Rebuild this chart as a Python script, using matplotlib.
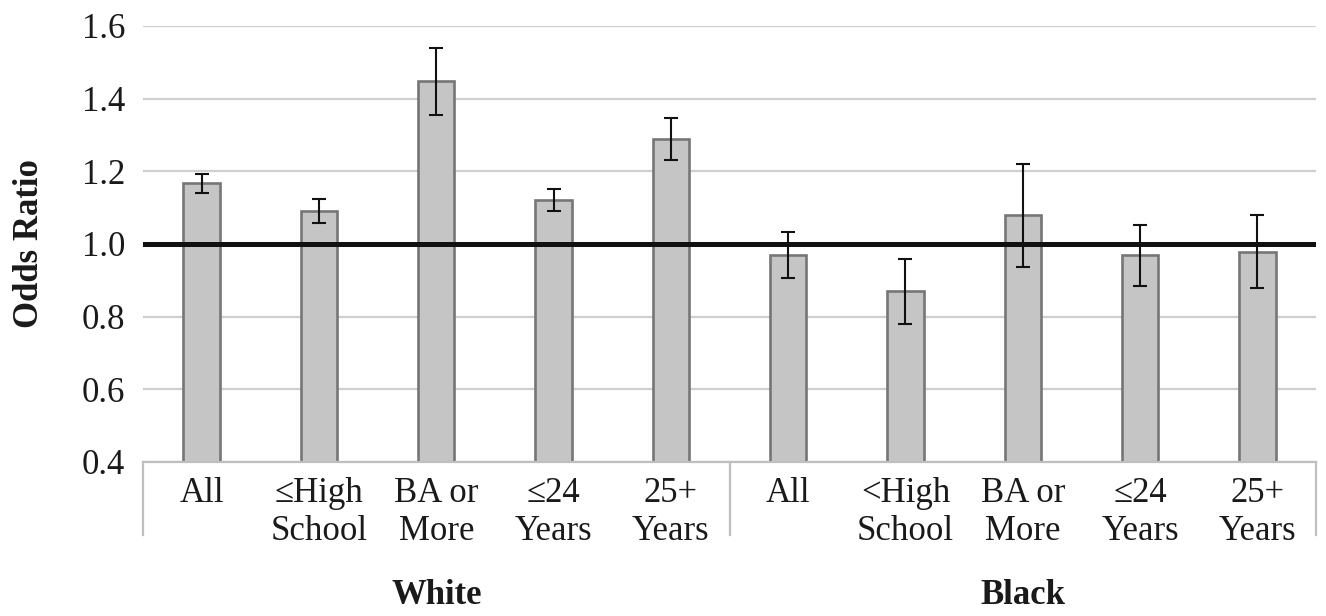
import matplotlib.pyplot as plt
from matplotlib.ticker import FormatStrFormatter

plt.rcParams['font.family'] = ['Liberation Serif', 'DejaVu Serif']

# data
groups = ["White", "Black"]
labels = ["All", "\u2264High\nSchool", "BA or\nMore", "\u226424\nYears", "25+\nYears",
          "All", "<High\nSchool", "BA or\nMore", "\u226424\nYears", "25+\nYears"]
odds = [1.167, 1.091, 1.448, 1.121, 1.289,
        0.970, 0.870, 1.081, 0.969, 0.978]
ci_low = [1.139, 1.058, 1.354, 1.091, 1.232,
          0.906, 0.779, 0.937, 0.885, 0.879]
ci_high = [1.194, 1.124, 1.539, 1.151, 1.346,
           1.033, 0.959, 1.221, 1.052, 1.079]
yticks = [0.4, 0.6, 0.8, 1.0, 1.2, 1.4, 1.6]

BAR = "#c4c5c4"
BAR_EDGE = "#767676"
GRID = "#cfcfcf"
AXIS = "#bfbfbf"
TXT = "#1a1a1a"

W, H = 1326, 616
fig = plt.figure(figsize=(W / 100, H / 100), dpi=100)
ax = fig.add_axes([143 / W, 1 - 462 / H, (1316 - 143) / W, (462 - 26) / H])

x = list(range(len(odds)))
ax.set_xlim(-0.5, len(odds) - 0.5)
ax.set_ylim(0.4, 1.6)

for v in yticks:
    if v != 1.0:
        ax.axhline(v, color=GRID, lw=1.6, zorder=0)

base = 0.4
ax.bar(x, [o - base for o in odds], bottom=base, width=0.31,
       color=BAR, edgecolor=BAR_EDGE, linewidth=1.9, zorder=2)
ax.axhline(1.0, color="#111111", lw=3.6, zorder=3)

err_lo = [o - l for o, l in zip(odds, ci_low)]
err_hi = [h - o for o, h in zip(odds, ci_high)]
ax.errorbar(x, odds, yerr=[err_lo, err_hi], fmt="none", ecolor="#111111",
            elinewidth=1.5, capsize=5, capthick=1.5, zorder=4)

for s in ["top", "right", "left"]:
    ax.spines[s].set_visible(False)
ax.spines["bottom"].set_color(AXIS)
ax.spines["bottom"].set_linewidth(1.6)

ax.set_yticks(yticks)
ax.yaxis.set_major_formatter(FormatStrFormatter("%.1f"))
ax.tick_params(axis="y", length=0, pad=13, labelsize=25, labelcolor=TXT)
ax.set_xticks(x)
ax.set_xticklabels(labels, fontsize=25, color=TXT, linespacing=1.2)
ax.tick_params(axis="x", length=0, pad=11)

# group boxes below the axis
tr = ax.get_xaxis_transform()
drop = (535 - 462) / (462 - 26)
for xs in [-0.5, 4.5, 9.5]:
    ax.plot([xs, xs], [0, -drop], color=AXIS, lw=1.6, transform=tr, clip_on=False)

n = len(labels) // len(groups)
for i, g in enumerate(groups):
    ax.text(i * n + (n - 1) / 2, -(595 - 462) / (462 - 26), g, transform=tr,
            ha="center", va="center", fontsize=25, fontweight="bold", color=TXT)

ax.set_ylabel("Odds Ratio", fontsize=25, fontweight="bold", color=TXT, va="center")
ax.yaxis.set_label_coords((29 - 143) / (1316 - 143), 0.5)

fig.savefig("out.png", dpi=100, facecolor="white")
